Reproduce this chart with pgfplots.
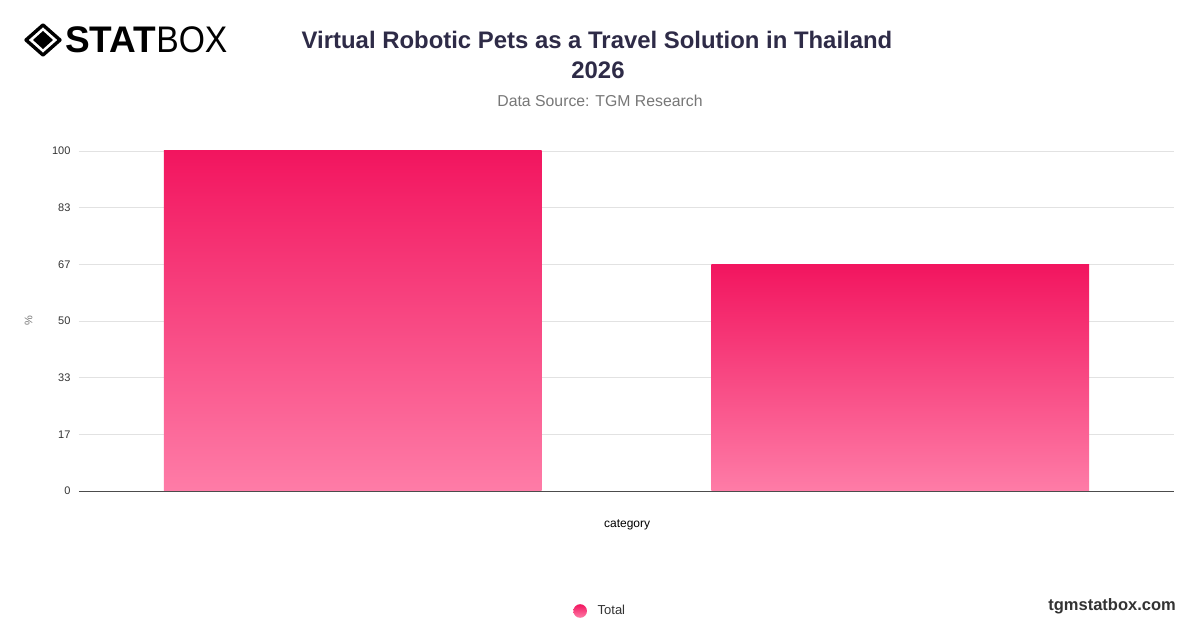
\documentclass[border=0pt]{standalone}
\usepackage{pgfplots}
\pgfplotsset{compat=1.18}
\usepackage{fontspec}
\setmainfont{Liberation Sans}
\definecolor{titlec}{HTML}{2E2B47}
\definecolor{subc}{HTML}{777777}
\definecolor{tickc}{HTML}{333333}
\definecolor{gridc}{HTML}{E2E2E2}
\definecolor{barTop}{HTML}{F2155F}
\definecolor{barBot}{HTML}{FE7CA7}
\begin{document}
\begin{tikzpicture}[x=1pt,y=1pt]
\useasboundingbox (0pt,0pt) rectangle (1200pt,628pt);
\fill[white] (0pt,0pt) rectangle (1200pt,628pt);
% logo
\begin{scope}[shift={(43pt,588pt)}]
\draw[black, line width=3.4pt, line join=round] (0pt,15pt) -- (17pt,0pt) -- (0pt,-15pt) -- (-17pt,0pt) -- cycle;
\fill[black] (0pt,9pt) -- (10pt,0pt) -- (0pt,-9pt) -- (-10pt,0pt) -- cycle;
\end{scope}
\node[anchor=west, inner sep=0, font=\fontsize{37}{37}\selectfont\bfseries] at (65pt,588pt) {STAT\fontseries{m}\selectfont\scalebox{0.91}[1]{BOX}};
% title
\node[anchor=center, inner sep=0, text=titlec, font=\fontsize{23.9}{24}\selectfont\bfseries] at (597pt,588pt) {Virtual Robotic Pets as a Travel Solution in Thailand};
\node[anchor=center, inner sep=0, text=titlec, font=\fontsize{23.9}{24}\selectfont\bfseries] at (598pt,558pt) {2026};
\node[anchor=center, inner sep=0, text=subc, font=\fontsize{15.8}{16}\selectfont] at (600pt,527pt) {Data Source: TGM Research};
\node[anchor=east, inner sep=0, text=tickc, font=\fontsize{16.5}{16.5}\selectfont\bfseries] at (1176pt,22pt) {tgmstatbox.com};
\begin{axis}[
  at={(79pt,137pt)}, anchor=south west,
  scale only axis, width=1095pt, height=340pt,
  xmin=-0.5, xmax=1.5, ymin=0, ymax=100,
  xtick=\empty,
  ytick={0,16.6667,33.3333,50,66.6667,83.3333,100},
  yticklabels={0,17,33,50,67,83,100},
  major tick length=0pt,
  ymajorgrids, grid style={gridc, line width=0.8pt},
  axis x line*=bottom, axis y line*=left,
  x axis line style={-, draw=black!70, line width=0.9pt},
  y axis line style={draw=none},
  tick label style={text=tickc, font=\fontsize{11}{11}\selectfont},
  yticklabel style={xshift=-5pt},
  ylabel={\%}, ylabel style={text=subc, font=\fontsize{11}{11}\selectfont, at={(axis description cs:-0.046,0.5)}, anchor=center},
  xlabel={category}, xlabel style={text=black, font=\fontsize{12}{12}\selectfont, at={(axis description cs:0.5006,-0.1)}, anchor=center},
  bar width=0.69,
  legend style={draw=none, fill=none, at={(0.4513,-0.353)}, anchor=west, font=\fontsize{13}{13}\selectfont, text=tickc, inner sep=0pt},
  legend image code/.code={\shade[top color=barTop, bottom color=barBot] (0pt,0pt) circle (6.8pt); \path (15.5pt,0pt);},
]
\addplot[ybar, bar shift=0pt, draw=none, top color=barTop, bottom color=barBot] coordinates {(0,100)};
\addlegendentry{Total}
\addplot[ybar, bar shift=0pt, draw=none, top color=barTop, bottom color=barBot, forget plot] coordinates {(1,66.67)};
\end{axis}
\end{tikzpicture}
\end{document}
